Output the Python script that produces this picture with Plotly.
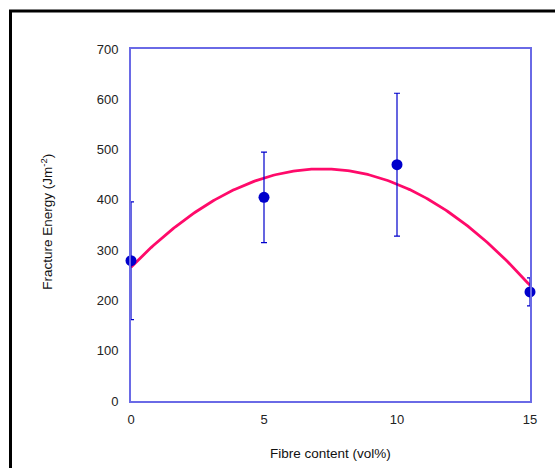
import numpy as np
import plotly.graph_objects as go

fibre = [0, 5, 10, 15]
energy = [279, 405, 470, 217]
err = [117, 90, 142, 28]
x_ticks = [0, 5, 10, 15]
y_ticks = [0, 100, 200, 300, 400, 500, 600, 700]

# quadratic trendline fitted to the data
coef = np.polyfit(fibre, energy, 2)
xs = np.linspace(0, 15, 200)
ys = np.polyval(coef, xs)

fig = go.Figure()
fig.add_trace(go.Scatter(x=xs, y=ys, mode="lines",
                         line=dict(color="#FF0A6A", width=2.8),
                         hoverinfo="skip", showlegend=False))
fig.add_trace(go.Scatter(x=fibre, y=energy, mode="markers",
                         marker=dict(color="#0000CC", size=11),
                         error_y=dict(type="data", array=err, color="#0000CC",
                                      thickness=1.2, width=3),
                         cliponaxis=False, showlegend=False))

axis_col = "#6A6AE6"
fig.update_layout(
    width=555, height=468,
    margin=dict(l=131, r=25, t=49, b=67),
    paper_bgcolor="white", plot_bgcolor="white",
    font=dict(family="Liberation Sans, Arial", size=13, color="#222222"),
    xaxis=dict(range=[0, 15], tickvals=x_ticks, showgrid=False, zeroline=False,
               showline=True, linecolor=axis_col, linewidth=2, mirror=True,
               ticks="outside", ticklen=5, tickcolor="rgba(0,0,0,0)"),
    yaxis=dict(range=[0, 700], tickvals=y_ticks, showgrid=False, zeroline=False,
               showline=True, linecolor=axis_col, linewidth=2, mirror=True,
               ticks="outside", ticklen=8, tickcolor="rgba(0,0,0,0)"),
    annotations=[
        dict(text="Fibre content (vol%)", xref="paper", yref="paper",
             x=0.5, y=-0.148, showarrow=False, xanchor="center", yanchor="middle",
             font=dict(size=13.5, color="#111111")),
        dict(text="Fracture Energy (Jm<sup>-2</sup>)", xref="paper", yref="paper",
             x=-0.21, y=0.51, showarrow=False, textangle=-90,
             xanchor="center", yanchor="middle",
             font=dict(size=13.5, color="#111111")),
    ],
    shapes=[dict(type="rect", xref="paper", yref="paper",
                 x0=-0.302, y0=-1.0, x1=2.0, y1=1.108,
                 line=dict(color="black", width=3), layer="below")],
)
fig.write_html("out.html", config={"displayModeBar": False},
               post_script="document.body.style.margin='0';document.body.style.overflow='hidden';")
